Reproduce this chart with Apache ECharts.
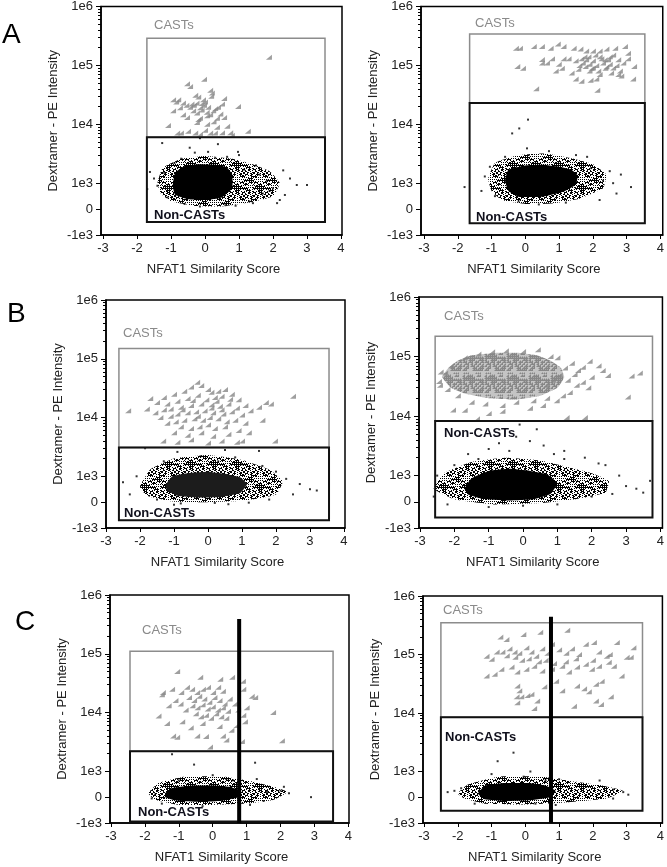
<!DOCTYPE html>
<html><head><meta charset="utf-8">
<script src="https://cdn.jsdelivr.net/npm/echarts@6/dist/echarts.min.js"></script>
<style>html,body{margin:0;padding:0;background:#fff}#c{width:667px;height:867px}</style>
</head><body><div id="c"></div><script>
// ---------- tick labels ----------
const xTickValues = [-3,-2,-1,0,1,2,3,4];
const yTickValues = [-1000,0,1000,10000,100000,1000000];
const yTickLabels = ['-1e3','0','1e3','1e4','1e5','1e6'];

// ---------- Panel A left ----------
const aLeftCasts = [[1.88,137000],[-0.53,49000],[-0.44,44000],[-0.03,58000],[0.15,38000],[0.2,34000],[0.18,30000],[-0.94,26000],[-0.85,24000],[-0.79,26000],[-0.74,19000],[-0.65,23000],[-0.94,17000],[-0.55,21000],[-0.44,19500],[-0.35,17000],[-0.29,31000],[-0.2,29000],[-0.06,26000],[-0.24,15500],[-0.15,19000],[-0.03,21000],[0.09,19500],[0.24,17000],[0.38,19500],[0.56,27500],[0.5,22000],[0.97,20000],[-0.4,22000],[-0.25,23000],[-0.1,22500],[0.0,24000],[-0.33,21000],[-0.1,17500],[0.05,16000],[0.3,18500],[0.15,14500],[0.45,15000],[-0.53,13000],[-0.15,12600],[0.06,14000],[0.35,12600],[0.56,13000],[-0.65,14500],[-1.09,9500],[-0.24,10700],[0.06,10000],[0.35,8900],[0.65,9300],[-0.82,7100],[-0.71,7100],[-0.5,7600],[-0.29,7100],[-0.15,6800],[0,7900],[0.15,7100],[0.29,7100],[0.5,7200],[0.74,7200],[0.79,6500],[1.26,7600],[-0.2,12000],[0.25,11000]];
const aLeftCore = [[-0.95,900],[-0.88,1500],[-0.6,1950],[-0.2,2100],[0.3,2050],[0.65,1850],[0.8,1400],[0.8,800],[0.5,450],[0.0,350],[-0.5,380],[-0.88,550]];
const aLeftHalo = [[-1.4,1000],[-1.25,1800],[-0.7,2600],[0,2900],[0.8,2600],[1.4,2100],[1.9,1600],[2.2,1000],[2.0,500],[1.3,250],[0.5,100],[-0.3,120],[-1.0,300],[-1.3,600]];
const aLeftDots = [[-1.26,4800],[0.38,4600],[0.09,3400],[0.97,3400],[0.65,2800],[-1.62,1550],[-1.7,770],[3.0,930],[2.3,1650],[2.35,545],[2.12,230],[1.41,230],[1.82,1100],[1.9,700],[2.7,930],[-0.15,5800],[-0.45,4000],[-0.7,2600],[-0.9,2200],[1.5,2000],[1.15,1700],[1.7,600],[1.3,300],[-1.1,450],[-1.2,1500],[-1.4,900],[0.6,150],[-0.15,100],[-0.6,200],[2.5,1200],[2.2,350],[1.0,3000],[-0.3,3300],[0.3,2700],[-1.5,1200],[0.9,130],[1.6,1400],[2.0,800]];
const aLeftCastsGate = [-1.71,3.53,290000,6000];
const aLeftNonGate = [-1.71,3.53,6000,-500];

// ---------- Panel A right ----------
const aRightCasts = [[-0.28,195000],[-0.16,195000],[0.25,210000],[0.49,210000],[0.75,195000],[0.96,230000],[1.13,210000],[1.43,195000],[1.63,190000],[1.8,175000],[2.0,175000],[2.2,175000],[2.4,190000],[2.66,195000],[2.95,210000],[3.04,160000],[-0.24,96000],[-0.07,89000],[0.49,126000],[0.64,110000],[0.79,130000],[0.49,110000],[0.99,105000],[1.13,130000],[1.28,130000],[1.49,120000],[1.66,130000],[1.87,140000],[2.07,150000],[2.25,130000],[2.45,125000],[2.6,150000],[2.75,125000],[2.9,110000],[3.04,130000],[3.22,96000],[0.9,80000],[1.08,89000],[1.37,74000],[1.57,86000],[1.78,96000],[1.96,89000],[2.16,80000],[2.37,89000],[2.54,74000],[2.75,70000],[2.84,66000],[3.19,59000],[1.49,59000],[1.66,54000],[1.93,56000],[2.1,59000],[0.32,40000],[2.13,38000],[1.7,110000],[1.9,105000],[2.0,120000],[2.1,100000],[2.3,110000],[2.4,95000],[2.5,105000],[1.8,125000],[2.2,140000],[1.6,100000],[2.6,90000],[2.0,90000],[1.75,140000],[2.35,125000],[2.5,140000],[2.7,100000],[1.9,80000],[2.8,80000],[2.2,70000]];
const aRightCore = [[-0.6,1100],[-0.5,1700],[0,2000],[0.5,2050],[1.0,1900],[1.35,1700],[1.55,1350],[1.5,950],[1.15,680],[0.5,480],[-0.2,480],[-0.5,700]];
const aRightHalo = [[-1.1,1200],[-0.9,2200],[-0.2,3000],[0.6,3200],[1.3,2700],[2.0,2100],[2.4,1400],[2.3,800],[1.6,400],[0.8,220],[0,200],[-0.7,350],[-1.0,700]];
const aRightDots = [[-0.39,7000],[-0.18,8500],[0.08,12000],[0.05,3900],[-1.8,850],[-1.3,700],[3.13,850],[2.83,1400],[2.6,1000],[1.83,2800],[0.1,3000],[-1.05,1900],[-1.2,1300],[2.2,350],[1.2,250],[-0.2,300],[2.3,1100],[1.95,1800],[0.7,3500],[-0.6,2800],[2.7,600],[-0.9,500],[0.4,180],[1.5,3000],[2.5,1600]];
const aRightCastsGate = [-1.65,3.54,340000,23000];
const aRightNonGate = [-1.65,3.54,23000,-550];

// ---------- Panel B left ----------
const bLeftCasts = [[-0.32,40000],[-0.5,33000],[-0.2,35000],[0.0,30000],[0.3,28000],[0.5,30000],[0.1,27000],[-0.7,28000],[-1.0,25000],[-1.3,22000],[-1.7,21000],[-1.5,18000],[-1.2,17000],[-0.9,19000],[-0.6,21000],[-0.3,24000],[0.2,22000],[0.4,23000],[0.7,25000],[0.9,20000],[1.1,16000],[1.5,15000],[1.7,18000],[1.85,17000],[2.5,23000],[-2.35,13000],[-1.8,14000],[-1.55,12000],[-1.3,13500],[-1.1,14000],[-0.8,15000],[-0.5,16000],[-0.2,17000],[0.1,16500],[0.35,15500],[0.6,17000],[0.85,14500],[1.25,13000],[-1.4,10000],[-1.1,10500],[-0.9,11500],[-0.6,12000],[-0.35,12500],[-0.1,13000],[0.15,12000],[0.45,11500],[0.7,12500],[1.0,11000],[1.6,9000],[-1.2,8000],[-0.95,8500],[-0.7,9000],[-0.4,9500],[-0.15,9000],[0.05,10000],[0.3,9500],[0.55,8500],[0.8,9000],[1.1,8000],[-0.8,7000],[-0.5,6500],[-0.25,7000],[0.0,7500],[0.2,6500],[0.5,7000],[0.9,6000],[-1.0,5500],[-0.6,5000],[-0.2,5500],[0.15,4800],[0.6,5200],[1.2,5500],[-1.32,4000],[-0.9,3800],[-0.5,4200],[0.0,3700],[0.4,4000],[0.85,3800],[1.0,4000],[1.97,4000],[-0.05,20000],[0.25,19000],[-0.45,19500],[-0.75,13500],[0.65,20500],[0.1,14500],[-0.3,10500],[0.4,13500]];
const bLeftCore = [[-1.25,650],[-1.05,1000],[-0.5,1150],[0,1200],[0.5,1100],[0.95,950],[1.15,700],[0.95,350],[0.4,200],[-0.3,180],[-0.9,250],[-1.2,450]];
const bLeftHalo = [[-2.0,600],[-1.7,1300],[-1.0,2000],[0,2300],[1.0,1900],[1.8,1300],[2.2,800],[2.0,300],[1.0,50],[0,0],[-1.0,20],[-1.8,250]];
const bLeftDots = [[-1.85,3000],[-0.9,2600],[0.5,2800],[1.5,2700],[-0.2,2200],[0.3,1800],[1.0,1600],[1.6,1500],[2.0,1200],[2.3,900],[2.7,700],[3.0,500],[3.2,450],[2.5,300],[1.8,100],[-2.3,300],[-1.5,100],[-0.8,-50],[0.2,-30],[1.2,-20],[-1.3,1800],[0.8,2100],[-2.5,770],[-2.1,1000],[-1.0,-100],[0.6,-80]];
const bLeftCastsGate = [-2.62,3.56,150000,3100];
const bLeftNonGate = [-2.62,3.56,3100,-700];

// ---------- Panel B right ----------
const bRightCastsCore = [[-2.35,45000],[-2.2,62000],[-1.9,85000],[-1.5,105000],[-0.8,115000],[-0.1,115000],[0.4,105000],[0.8,85000],[1.1,65000],[1.2,45000],[1.0,30000],[0.5,22000],[-0.2,19000],[-1.0,20000],[-1.7,24000],[-2.1,30000]];
const bRightCasts = [[-2.1,70000],[-1.7,95000],[-1.3,110000],[-0.9,120000],[-0.5,125000],[0.0,122000],[0.43,130000],[-2.4,55000],[-2.45,38000],[-2.27,53000],[-2.42,33000],[-2.2,28000],[-1.9,22000],[-1.5,17000],[-1.1,16000],[-0.6,15000],[-0.2,17000],[0.3,18000],[0.7,20000],[-2.04,12600],[-1.34,9000],[-1.0,11000],[-0.6,12000],[-1.7,12500],[0.2,13500],[0.58,15000],[0.98,18000],[1.16,22000],[1.36,25000],[1.56,33000],[1.74,37000],[0.69,33000],[0.87,40000],[1.07,49000],[1.22,64000],[1.42,77000],[1.6,58000],[1.74,66000],[1.94,83000],[2.32,58000],[2.47,48000],[3.16,47000],[3.4,53000],[3.05,21000],[1.27,9500],[1.8,9500],[1.3,40000],[1.5,50000],[2.0,45000],[2.2,70000],[1.9,30000],[1.0,95000],[0.8,100000]];
const bRightCore = [[-1.7,500],[-1.5,900],[-1.0,1200],[-0.4,1300],[0.2,1200],[0.7,1050],[1.0,700],[0.8,300],[0.3,100],[-0.5,50],[-1.2,120],[-1.6,280]];
const bRightHalo = [[-2.6,500],[-2.3,1100],[-1.5,1700],[-0.5,2000],[0.5,1800],[1.3,1400],[2.0,1100],[2.5,800],[2.4,350],[1.5,100],[0.5,-50],[-0.8,-100],[-2.0,100]];
const bRightDots = [[3.0,600],[3.3,500],[3.7,800],[2.8,1000],[2.6,300],[2.2,1600],[1.8,2000],[1.2,2600],[0.6,3200],[0.2,3800],[-0.2,4500],[-0.7,3500],[-1.0,2800],[-1.6,2300],[-2.0,1500],[-2.5,1000],[-2.6,200],[-2.2,-100],[-1.0,-200],[0.0,-150],[1.0,-100],[2.0,200],[0.4,6000],[-0.1,7200],[1.2,1900],[-0.4,2600],[0.9,2300],[-1.3,1900],[3.5,350],[2.4,1500]];
const bRightCastsGate = [-2.56,3.77,220000,8300];
const bRightNonGate = [-2.56,3.77,8300,-600];

// ---------- Panel C left ----------
const cLeftCasts = [[-1.05,50000],[-0.37,40000],[0.22,37000],[0.57,40000],[0.89,34000],[-1.2,25000],[-1.47,22000],[-1.5,20000],[-0.93,22000],[-0.76,27000],[-0.61,25000],[-0.46,22000],[-0.29,25000],[-0.14,27000],[0.01,22000],[0.16,27000],[0.3,23000],[0.9,25000],[1.15,19000],[1.25,18000],[1.78,10000],[2.04,3300],[-1.6,8700],[-1.17,4000],[-1.05,3800],[-0.46,4000],[-0.2,3900],[-0.08,2600],[0.3,4000],[0.4,3400],[0.86,3200],[-0.7,18000],[-0.55,16000],[-0.4,19000],[-0.25,17000],[-0.1,15000],[0.05,18000],[0.2,16000],[0.35,14000],[0.5,17000],[-0.6,13000],[-0.45,12000],[-0.3,13500],[-0.15,11500],[0,12500],[0.15,11000],[0.3,12000],[0.45,10500],[-0.5,9500],[-0.35,8500],[-0.2,9000],[-0.05,8000],[0.1,9500],[0.25,8500],[0.4,8000],[-0.8,11000],[-0.95,14000],[-1.1,16000],[-1.3,13000],[0.65,14000],[0.75,11000],[0.9,9000],[1.0,12000],[0.95,7000],[0.7,6000],[-0.9,7000],[-0.3,6500],[0.2,5800],[0.55,5000],[-0.65,5500],[-1.35,6500]];
const cLeftCore = [[-1.4,150],[-1.2,350],[-0.6,450],[0,450],[0.5,400],[0.8,250],[0.75,0],[0.2,-150],[-0.5,-180],[-1.1,-120],[-1.4,0]];
const cLeftHalo = [[-1.9,150],[-1.6,550],[-0.8,800],[0.3,800],[1.2,600],[1.8,400],[2.2,200],[1.8,-100],[1.0,-250],[0,-300],[-1.0,-300],[-1.7,-100]];
const cLeftDots = [[-1.2,1950],[-0.55,1300],[1.25,1400],[1.3,700],[1.6,200],[2.0,250],[2.25,150],[2.9,0],[-1.7,100],[-1.8,-50],[0.4,700],[0.8,750],[2.1,400],[1.5,-150],[-1.0,650],[0.0,850],[0.6,650],[-1.5,-250],[1.1,-300],[-0.3,-350]];
const cLeftCastsGate = [-2.44,3.55,110000,2200];
const cLeftNonGate = [-2.44,3.55,2200,-940];
const cLeftDivider = [0.78,-1000,390000];

// ---------- Panel C right ----------
const cRightCasts = [[-0.06,220000],[0.44,240000],[1.24,260000],[-0.74,200000],[-0.56,180000],[-1.15,93000],[-1.0,83000],[-0.68,110000],[-0.47,125000],[-0.32,110000],[-0.18,105000],[0.03,130000],[0.18,110000],[0.32,93000],[0.5,125000],[0.65,105000],[0.79,150000],[1.0,120000],[1.21,105000],[1.38,125000],[1.59,100000],[1.79,150000],[2.03,160000],[2.18,110000],[2.41,93000],[2.71,160000],[3.0,90000],[3.2,130000],[-1.15,43000],[-0.91,46000],[-0.71,56000],[-0.41,61000],[-0.24,50000],[0.03,56000],[0.26,63000],[0.5,52000],[0.79,56000],[1.09,63000],[1.29,50000],[1.53,61000],[1.79,68000],[1.97,56000],[2.18,63000],[2.47,74000],[2.62,63000],[2.85,43000],[3.12,90000],[-0.24,29000],[-0.18,24000],[-0.26,19000],[-0.12,19000],[0.06,20000],[0.18,21000],[0.35,16000],[0.56,28000],[0.91,35000],[1.09,24000],[1.53,29000],[1.74,26000],[1.88,23000],[2.09,31000],[2.26,35000],[2.53,19000],[2.09,16000],[2.24,14000],[1.44,13000],[0.26,12000],[-0.24,15000],[-0.3,90000],[-0.1,80000],[0.1,85000],[0.4,75000],[-0.55,95000],[0.6,80000],[1.5,85000],[2.0,80000],[2.5,100000],[-0.85,110000],[1.2,75000],[0.85,70000]];
const cRightCore = [[-1.4,150],[-1.2,450],[-0.6,550],[0.1,550],[0.6,450],[0.9,250],[0.75,0],[0.1,-120],[-0.6,-150],[-1.2,-80]];
const cRightHalo = [[-2.0,150],[-1.7,500],[-0.8,800],[0.5,800],[1.5,600],[2.3,450],[2.9,250],[2.4,-50],[1.2,-200],[0,-280],[-1.2,-250],[-1.8,-50]];
const cRightDots = [[-0.82,1500],[-0.35,2100],[-0.05,800],[0.15,1000],[0.6,650],[-2.3,200],[-2.1,250],[2.9,200],[3.05,100],[2.6,-50],[1.8,400],[1.3,-150],[0.9,-300],[-1.5,-250],[2.2,650],[1.0,700],[-1.0,900],[0.3,-250],[2.6,300],[-1.9,350]];
const cRightCastsGate = [-2.5,3.47,350000,8500];
const cRightNonGate = [-2.5,3.47,8500,-520];
const cRightDivider = [0.76,-1000,440000];

// ---------- scale (biexponential-like display) ----------
function T(v){ return v >= 1000 ? Math.log10(v) : 2.56 + 0.44 * v / 1000; }
const Y_MIN = T(-1000), Y_MAX = T(1000000);
const minorTicks = [];
for (let n = 3; n < 6; n++) for (let k = 2; k < 10; k++) minorTicks.push(Math.log10(k * Math.pow(10, n)));

const FONT = '"Liberation Sans", Arial, sans-serif';
const GREY = '#878787';

// speckle textures (styling only, fixed hash pattern)
function hashOn(x, y, pct){ return ((x * 374761 + y * 668265 + x * y * 2147) % 997) % 100 < pct; }
function makeSpeckle(color, pct, size){
  const c = document.createElement('canvas'); c.width = size; c.height = size;
  const g = c.getContext('2d'); g.fillStyle = color;
  for (let x = 0; x < size; x++) for (let y = 0; y < size; y++) if (hashOn(x, y, pct)) g.fillRect(x, y, 1, 1);
  return {image: c, repeat: 'repeat'};
}
function makeTriTexture(color, size){
  const c = document.createElement('canvas'); c.width = size; c.height = size;
  const g = c.getContext('2d'); g.fillStyle = '#c4c4c4'; g.fillRect(0, 0, size, size);
  g.fillStyle = color;
  for (let x = 0; x < size; x += 2) for (let y = 0; y < size; y += 2) if (hashOn(x, y, 55)) {
    g.beginPath(); g.moveTo(x + 3, y); g.lineTo(x + 3, y + 3); g.lineTo(x, y + 3); g.closePath(); g.fill();
  }
  return {image: c, repeat: 'repeat'};
}
const speckle = makeSpeckle('#000', 45, 23);
const triTexture = makeTriTexture('#878787', 22);

const panels = [
  {grid:{left:101,top:6,width:241,height:229}, xMin:-3.06, xMax:4.03, casts:aLeftCasts, castsCore:null, core:aLeftCore, halo:aLeftHalo, dots:aLeftDots, castsGate:aLeftCastsGate, nonGate:aLeftNonGate, divider:null, castsLabel:[154,25], nonLabel:[154,215], coreFill:'#000'},
  {grid:{left:421,top:5,width:244,height:230}, xMin:-3.09, xMax:4.07, casts:aRightCasts, castsCore:null, core:aRightCore, halo:aRightHalo, dots:aRightDots, castsGate:aRightCastsGate, nonGate:aRightNonGate, divider:null, castsLabel:[475,23], nonLabel:[476,217], coreFill:'#000'},
  {grid:{left:106,top:300,width:239,height:228}, xMin:-3.0, xMax:4.03, casts:bLeftCasts, castsCore:null, core:bLeftCore, halo:bLeftHalo, dots:bLeftDots, castsGate:bLeftCastsGate, nonGate:bLeftNonGate, divider:null, castsLabel:[123,333], nonLabel:[124,513], coreFill:'#1c1c1c'},
  {grid:{left:419,top:297,width:244,height:231}, xMin:-3.03, xMax:4.06, casts:bRightCasts, castsCore:bRightCastsCore, core:bRightCore, halo:bRightHalo, dots:bRightDots, castsGate:bRightCastsGate, nonGate:bRightNonGate, divider:null, castsLabel:[444,316], nonLabel:[444,433], coreFill:'#000'},
  {grid:{left:110,top:595,width:239,height:228}, xMin:-3.03, xMax:4.02, casts:cLeftCasts, castsCore:null, core:cLeftCore, halo:cLeftHalo, dots:cLeftDots, castsGate:cLeftCastsGate, nonGate:cLeftNonGate, divider:cLeftDivider, castsLabel:[142,630], nonLabel:[138,812], coreFill:'#000'},
  {grid:{left:423,top:596,width:241,height:227}, xMin:-3.03, xMax:4.06, casts:cRightCasts, castsCore:null, core:cRightCore, halo:cRightHalo, dots:cRightDots, castsGate:cRightCastsGate, nonGate:cRightNonGate, divider:cRightDivider, castsLabel:[443,610], nonLabel:[445,737], coreFill:'#000'}
];
const letters = [['A',2,35],['B',7,314],['C',15,622]];

const grids = [], xAxes = [], yAxes = [], series = [], graphics = [];
function polySeries(i, pts, fill, opacity, z){
  return {type:'custom', xAxisIndex:i, yAxisIndex:2*i, silent:true, clip:true, data:[[0,0]], z:z,
    renderItem:(params, api) => ({type:'polygon',
      shape:{points: pts.map(p => api.coord([p[0], T(p[1])])), smooth:0.12},
      style:{fill:fill, opacity:opacity}})};
}
panels.forEach((p, i) => {
  grids.push(Object.assign({show:true, borderColor:'#000', borderWidth:1.5, backgroundColor:'#fff'}, p.grid));
  xAxes.push({gridIndex:i, type:'value', min:p.xMin, max:p.xMax,
    axisLine:{show:true, onZero:false, lineStyle:{color:'#000', width:1.5}},
    axisTick:{show:true, length:4, customValues:xTickValues, lineStyle:{color:'#000', width:1}},
    axisLabel:{customValues:xTickValues, color:'#222', fontSize:13, fontFamily:FONT, margin:7},
    splitLine:{show:false},
    name:'NFAT1 Similarity Score', nameLocation:'middle', nameGap:28,
    nameTextStyle:{fontSize:13, color:'#222', fontFamily:FONT, padding:[0,16,0,0]}});
  yAxes.push({gridIndex:i, type:'value', position:'left', min:Y_MIN, max:Y_MAX,
    axisLine:{show:true, onZero:false, lineStyle:{color:'#000', width:1.5}},
    axisTick:{show:true, length:5, customValues:yTickValues.map(T), lineStyle:{color:'#000', width:1}},
    axisLabel:{customValues:yTickValues.map(T), color:'#222', fontSize:13, fontFamily:FONT, margin:8,
      formatter:(v) => { for (let k = 0; k < yTickValues.length; k++) if (Math.abs(T(yTickValues[k]) - v) < 1e-6) return yTickLabels[k]; return ''; }},
    splitLine:{show:false},
    name:'Dextramer - PE Intensity', nameLocation:'middle', nameGap:41, nameRotate:90,
    nameTextStyle:{fontSize:13, color:'#222', fontFamily:FONT}});
  yAxes.push({gridIndex:i, type:'value', position:'left', offset:0, min:Y_MIN, max:Y_MAX,
    axisLine:{show:false, onZero:false}, axisLabel:{show:false}, splitLine:{show:false},
    axisTick:{show:true, length:3, customValues:minorTicks, lineStyle:{color:'#000', width:1}}});

  series.push(polySeries(i, p.halo, speckle, 1, 1));
  series.push(polySeries(i, p.core, p.coreFill, 1, 1));
  series.push({type:'scatter', xAxisIndex:i, yAxisIndex:2*i, silent:true, symbol:'rect', symbolSize:2,
    itemStyle:{color:'#000'}, data:p.dots.map(d => [d[0], T(d[1])]), z:2});
  if (p.castsCore) series.push(polySeries(i, p.castsCore, triTexture, 1, 2));
  series.push({type:'scatter', xAxisIndex:i, yAxisIndex:2*i, silent:true,
    symbol:'path://M8,0L8,8L0,8Z', symbolSize:[6,5],
    itemStyle:{color:GREY}, data:p.casts.map(d => [d[0], T(d[1])]), z:3});
  series.push({type:'custom', xAxisIndex:i, yAxisIndex:2*i, silent:true, data:[[0,0]], z:4,
    renderItem:(params, api) => {
      const r = g => { const a = api.coord([g[0], T(g[2])]), b = api.coord([g[1], T(g[3])]);
        return {x:a[0], y:a[1], width:b[0]-a[0], height:b[1]-a[1]}; };
      return {type:'group', children:[
        {type:'rect', shape:r(p.castsGate), style:{fill:'none', stroke:'#8c8c8c', lineWidth:1.5}},
        {type:'rect', shape:r(p.nonGate), style:{fill:'none', stroke:'#111', lineWidth:2}}]};
    }});
  if (p.divider) series.push({type:'line', xAxisIndex:i, yAxisIndex:2*i, silent:true, symbol:'none', z:5,
    lineStyle:{color:'#000', width:4},
    data:[[p.divider[0], T(p.divider[1])], [p.divider[0], T(p.divider[2])]]});
  graphics.push({type:'text', x:p.castsLabel[0], y:p.castsLabel[1], z:10,
    style:{text:'CASTs', fill:'#8a8a8a', font:'13px ' + FONT, verticalAlign:'middle'}});
  graphics.push({type:'text', x:p.nonLabel[0], y:p.nonLabel[1], z:10,
    style:{text:'Non-CASTs', fill:'#10101c', font:'bold 13px ' + FONT, verticalAlign:'middle'}});
});
letters.forEach(l => graphics.push({type:'text', x:l[1], y:l[2], z:10,
  style:{text:l[0], fill:'#000', font:'28px ' + FONT, verticalAlign:'middle'}}));

const chart = echarts.init(document.getElementById('c'), null, {renderer:'canvas'});
chart.setOption({backgroundColor:'#fff', animation:false, grid:grids, xAxis:xAxes, yAxis:yAxes, series:series, graphic:graphics});
</script></body></html>
